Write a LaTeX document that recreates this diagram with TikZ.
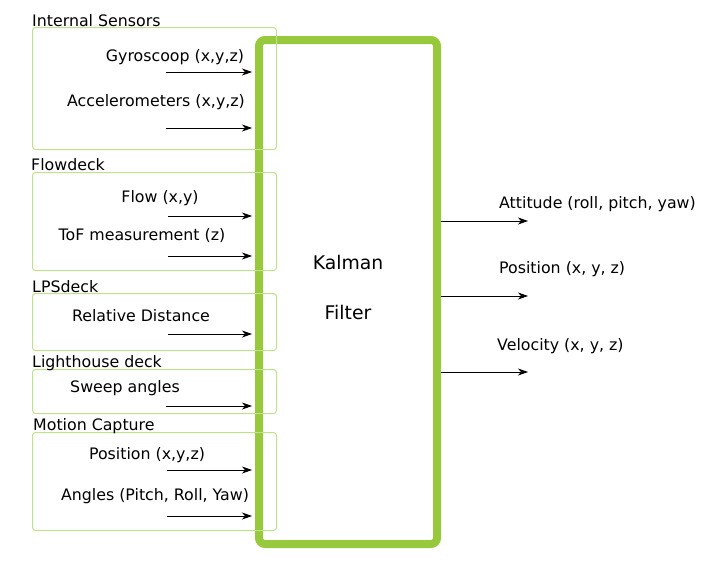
\documentclass[tikz,border=0pt]{standalone}
\usepackage{fontspec}
\setmainfont{DejaVu Sans}
\usetikzlibrary{arrows.meta, positioning}
\definecolor{KFGreen}{RGB}{152,201,60}
\definecolor{KFLight}{RGB}{190,225,140}

\begin{document}
\begin{tikzpicture}[x=1pt, y=-1pt,
          grp/.style={draw=KFLight, line width=1pt, rounded corners=3pt,
                      anchor=north west, inner sep=0pt},
          ttl/.style={anchor=west, font=\fontsize{15.8}{19}\selectfont, inner sep=0pt},
          lbl/.style={font=\fontsize{15.8}{19}\selectfont, inner sep=0pt},
          arr/.style={-{Stealth[length=10pt, width=7pt, inset=3pt]}, line width=0.8pt}
        ]
        \useasboundingbox (0,0) rectangle (713,563);

        % Kalman filter block
        \node[draw=KFGreen, line width=8pt, rounded corners=6pt,
              minimum width=178pt, minimum height=504pt, align=center,
              text depth=10pt, font=\fontsize{18.8}{23}\selectfont] (kf) at (348,292)
              {Kalman\\[27pt]Filter};

        % Internal sensors
        \node[grp, minimum width=244pt, minimum height=122pt] (ins) at (32,27) {};
        \node[ttl] (insT) at (32,21) {Internal Sensors};
        \node[lbl] (gyro) at (175,57) {Gyroscoop (x,y,z)};
        \node[lbl] (acc) at (156,102) {Accelerometers (x,y,z)};
        \coordinate (gyroS) at (166,72);
        \coordinate (accS) at (166,128);

        % Flowdeck
        \node[grp, minimum width=244pt, minimum height=98pt] (flw) at (32,172) {};
        \node[ttl] (flwT) at (31,165) {Flowdeck};
        \node[lbl] (flow) at (160,198) {Flow (x,y)};
        \node[lbl] (tof) at (142,236) {ToF measurement (z)};
        \coordinate (flowS) at (168,216);
        \coordinate (tofS) at (168,256);

        % LPSdeck
        \node[grp, minimum width=244pt, minimum height=57pt] (lps) at (32,293) {};
        \node[ttl] (lpsT) at (32,287) {LPSdeck};
        \node[lbl] (dist) at (141,316) {Relative Distance};
        \coordinate (distS) at (168,334);

        % Lighthouse deck
        \node[grp, minimum width=244pt, minimum height=44pt] (lh) at (32,369) {};
        \node[ttl] (lhT) at (32,363) {Lighthouse deck};
        \node[lbl] (swp) at (125,388) {Sweep angles};
        \coordinate (swpS) at (166,406);

        % Motion capture
        \node[grp, minimum width=244pt, minimum height=98pt] (mc) at (32,432) {};
        \node[ttl] (mcT) at (33,426) {Motion Capture};
        \node[lbl] (pos) at (147,455) {Position (x,y,z)};
        \node[lbl] (ang) at (155,496) {Angles (Pitch, Roll, Yaw)};
        \coordinate (posS) at (167,470);
        \coordinate (angS) at (167,516);

        % inputs
        \foreach \s/\y in {gyroS/72, accS/128, flowS/216, tofS/256,
                           distS/334, swpS/406, posS/470, angS/516}
          \draw[arr] (\s) -- ([xshift=-3pt]kf.west |- 0,\y);

        % outputs
        \coordinate (attE) at (528,221);
        \coordinate (outpE) at (528,296);
        \coordinate (velE) at (528,372);
        \draw[arr] (kf.east |- attE) -- (attE);
        \draw[arr] (kf.east |- outpE) -- (outpE);
        \draw[arr] (kf.east |- velE) -- (velE);
        \node[ttl] (att) at (499,204) {Attitude (roll, pitch, yaw)};
        \node[ttl] (outp) at (499,269) {Position (x, y, z)};
        \node[ttl] (vel) at (497,346) {Velocity (x, y, z)};
      \end{tikzpicture}
\end{document}
